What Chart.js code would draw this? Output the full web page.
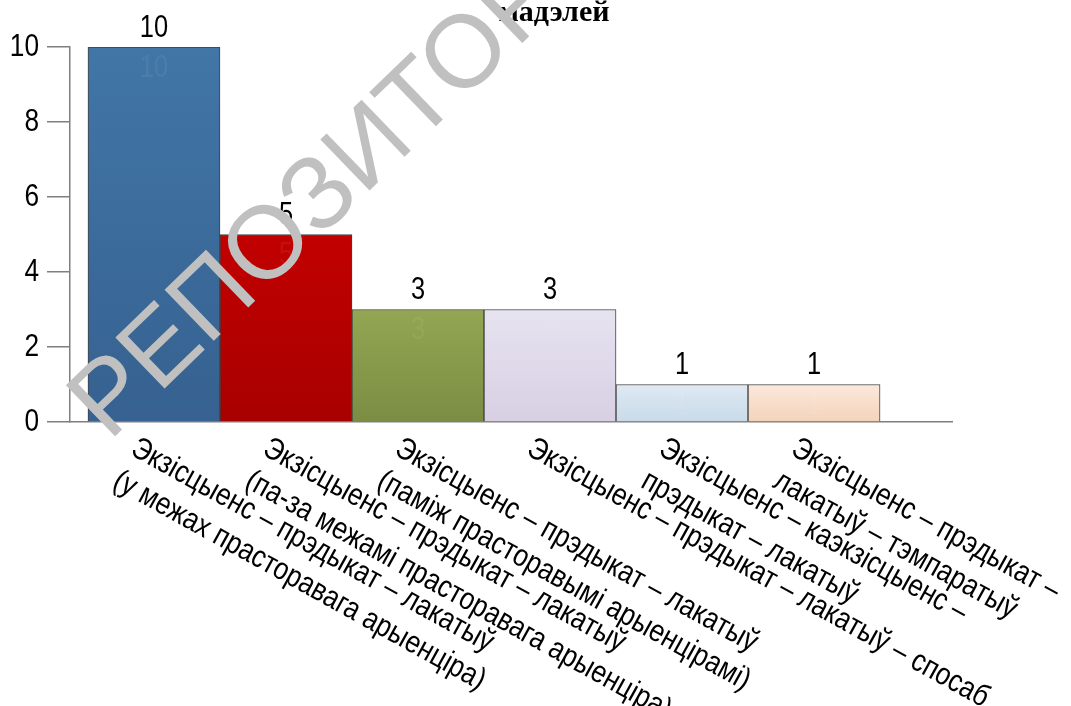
<!DOCTYPE html>
<html>
<head>
<meta charset="utf-8">
<script src="https://cdn.jsdelivr.net/npm/chart.js@4/dist/chart.umd.min.js"></script>
<style>
  body { margin: 0; background: #fff; }
</style>
</head>
<body>
<canvas id="canvas_model" width="1071" height="706"></canvas>
<script>
// chart data
var categories = [
    ['Экзісцыенс – прэдыкат – лакатыў', '(у межах прасторавага арыенціра)'],
    ['Экзісцыенс – прэдыкат – лакатыў', '(па-за межамі прасторавага арыенціра)'],
    ['Экзісцыенс – прэдыкат – лакатыў', '(паміж прасторавымі арыенцірамі)'],
    ['Экзісцыенс – прэдыкат – лакатыў – спосаб'],
    ['Экзісцыенс – каэкзісцыенс –', 'прэдыкат – лакатыў'],
    ['Экзісцыенс – прэдыкат –', 'лакатыў – тэмпаратыў']
];
var counts = [10, 5, 3, 3, 1, 1];
var yTicks = [0, 2, 4, 6, 8, 10];
var chartTitle = 'мадэлей';
var watermark = 'РЕПОЗИТОРИЙ';

var topColors = ['#4176a7', '#c20000', '#93a653', '#e6e3f0', '#dfe9f3', '#fbe8dc'];
var bottomColors = ['#366190', '#a80000', '#7a8d43', '#d8cfe3', '#c8dae9', '#f4d3ba'];

// Arial Narrow look: Liberation Sans squeezed horizontally
function narrowText(ctx, text, x, y, size, squeeze) {
    ctx.save();
    ctx.translate(x, y);
    ctx.scale(squeeze || 0.82, 1);
    ctx.font = size + 'px "Liberation Sans", Arial, sans-serif';
    ctx.fillText(text, 0, 0);
    ctx.restore();
}

var barLabels = {
    id: 'barLabels',
    afterDatasetsDraw: function(chart) {
        var ctx = chart.ctx;
        var xs = chart.scales.x, ys = chart.scales.y;
        var meta = chart.getDatasetMeta(0);
        ctx.save();
        ctx.textBaseline = 'middle';
        // y tick labels
        ctx.textAlign = 'right';
        ctx.fillStyle = '#000';
        ys.ticks.forEach(function(t) {
            narrowText(ctx, String(t.value), ys.right - 31, ys.getPixelForValue(t.value), 32);
        });
        // value labels
        ctx.textAlign = 'center';
        meta.data.forEach(function(bar, i) {
            ctx.fillStyle = '#000';
            narrowText(ctx, String(counts[i]), bar.x, bar.y - 19, 31);
            ctx.fillStyle = 'rgba(255,255,255,0.06)';
            narrowText(ctx, String(counts[i]), bar.x, bar.y + 21, 31);
        });
        // rotated category names
        ctx.fillStyle = '#000';
        ctx.textAlign = 'left';
        ctx.textBaseline = 'top';
        categories.forEach(function(lines, i) {
            ctx.save();
            ctx.translate(xs.getPixelForValue(i) - 13, ys.bottom + 11);
            ctx.rotate(29 * Math.PI / 180);
            lines.forEach(function(t, k) { narrowText(ctx, t, 0, k * 37, 31, 0.845); });
            ctx.restore();
        });
        ctx.restore();
    },
    afterDraw: function(chart) {
        var ctx = chart.ctx;
        ctx.save();
        ctx.font = 'bold 30px "Liberation Serif", "DejaVu Serif", serif';
        ctx.fillStyle = '#000';
        ctx.textAlign = 'center';
        ctx.textBaseline = 'alphabetic';
        ctx.fillText(chartTitle, 554, 21);
        // watermark over everything
        ctx.translate(109, 442);
        ctx.rotate(-44 * Math.PI / 180);
        ctx.font = '103px "Liberation Sans", Arial, sans-serif';
        ctx.fillStyle = '#c0c0c0';
        ctx.textAlign = 'left';
        ctx.fillText(watermark, 0, 0);
        ctx.restore();
    }
};

var ctx_model = document.getElementById('canvas_model').getContext('2d');
window.myBar = new Chart(ctx_model, {
    type: 'bar',
    data: {
        datasets: [{
            data: counts.map(function(v, i) { return { x: i, y: v }; }),
            backgroundColor: function(c) {
                var chart = c.chart, area = chart.chartArea;
                var i = c.dataIndex;
                if (!area || i === undefined) return topColors[0];
                var top = chart.scales.y.getPixelForValue(counts[i]);
                var g = chart.ctx.createLinearGradient(0, top, 0, area.bottom);
                g.addColorStop(0, topColors[i]);
                g.addColorStop(1, bottomColors[i]);
                return g;
            },
            borderColor: '#404040',
            borderWidth: 1,
            categoryPercentage: 1,
            barPercentage: 1
        }]
    },
    options: {
        responsive: false,
        animation: false,
        devicePixelRatio: 1,
        layout: { padding: { top: 47, right: 119, bottom: 283, left: 0 } },
        plugins: {
            legend: { display: false },
            title: { display: false },
            tooltip: { enabled: false }
        },
        scales: {
            x: {
                type: 'linear',
                offset: false,
                min: -0.636,
                max: 6.045,
                afterBuildTicks: function(s) {
                    s.ticks = categories.map(function(c, i) { return { value: i }; });
                },
                afterFit: function(s) { s.height = 1; },
                ticks: { display: false },
                grid: { display: false, drawTicks: false },
                border: { color: '#7f7f7f', width: 1.5 }
            },
            y: {
                min: 0,
                max: 10,
                afterBuildTicks: function(s) {
                    s.ticks = yTicks.map(function(v) { return { value: v }; });
                },
                afterFit: function(s) { s.width = 70; },
                grid: { drawOnChartArea: false, drawTicks: true, tickLength: 23, color: '#7f7f7f', lineWidth: 1.5 },
                border: { color: '#7f7f7f', width: 1.5 },
                ticks: { display: false }
            }
        }
    },
    plugins: [barLabels]
});
</script>
</body>
</html>
